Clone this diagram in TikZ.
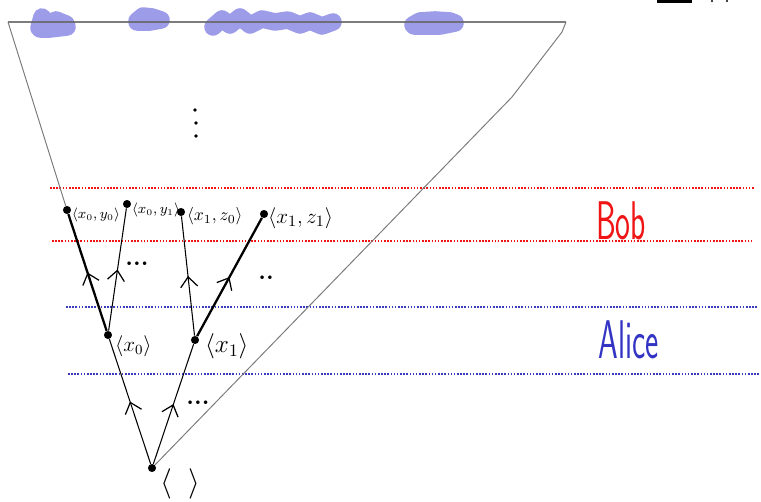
\documentclass[tikz,border=0pt]{standalone}
\usepackage{amsmath}
\usetikzlibrary{arrows.meta,decorations.markings}
\definecolor{bobred}{HTML}{F01414}
\definecolor{alicecol}{HTML}{3333C4}
\definecolor{sepblue}{HTML}{3A3AC0}
\definecolor{blobblue}{HTML}{9C9CE8}
\definecolor{trigray}{HTML}{7A7A7A}
\tikzset{
  dot/.style={circle,fill=black,inner sep=0pt,minimum size=4.6pt},
  speck/.style={circle,fill=black,inner sep=0pt,minimum size=2.2pt},
  lbl/.style={anchor=west,inner sep=1pt},
  who/.style={font=\sffamily\fontsize{31}{33}\selectfont},
  dots/.style={font=\bfseries\fontsize{14}{16}\selectfont,inner sep=0pt},
  bobline/.style={draw=bobred,line width=0.7pt,dash pattern=on 0.9pt off 0.9pt},
  aliceline/.style={draw=sepblue,line width=0.7pt,dash pattern=on 0.9pt off 0.9pt},
  tri/.style={draw=trigray,line width=0.55pt},
  top/.style={draw=black!60,draw opacity=0.85,line width=1.6pt},
  blob/.style={draw=blobblue,line width=10pt,line cap=round,line join=round},
  upmark/.style={decoration={markings,mark=at position 0.5 with {\arrow{Straight Barb[length=2mm,width=3.4mm,line width=0.7pt]}}},postaction={decorate}},
  edge/.style={draw=black,line width=0.6pt,upmark},
  edgethick/.style={draw=black,line width=1.3pt,upmark}
}
\begin{document}
\begin{tikzpicture}[x=0.02cm,y=-0.02cm]
\path[use as bounding box] (0,0) rectangle (761,502);
% scribbled-out heading
\draw[blob] (39,28)--(42,17)--(48,24)--(56,20)--(66,24)--(67,27)--(50,29)--(40,29);
\draw[blob] (137,21)--(143,16)--(152,17)--(161,20)--(150,22)--(137,22);
\draw[blob] (213,27)--(222,19)--(230,25)--(240,17)--(250,25)--(262,19)--(275,22)--(288,20)--(300,25)--(310,21)--(322,26)--(333,22);
\draw[blob] (413,25)--(420,21)--(435,20)--(450,21)--(455,23)--(440,26)--(414,26);
\coordinate (tl) at (8,22);
\coordinate (tr) at (566,22);
\coordinate (kink) at (562,32);
\coordinate (bend) at (512,97);
\draw[top] (tl)--(tr);
\fill[black] (657,0) rectangle (692,3);
\fill[black] (712,1) circle (0.6pt) (727,1) circle (0.6pt);
% Bob / Alice bands
\coordinate (b1l) at (50,188); \coordinate (b1r) at (755,188);
\coordinate (b2l) at (52,241); \coordinate (b2r) at (752,241);
\coordinate (a1l) at (66,307); \coordinate (a1r) at (757,307);
\coordinate (a2l) at (68,374); \coordinate (a2r) at (760,374);
\draw[bobline] (b1l)--(b1r);
\draw[bobline] (b2l)--(b2r);
\draw[aliceline] (a1l)--(a1r);
\draw[aliceline] (a2l)--(a2r);
\node[who,text=bobred] (bob) at (621,221) {\scalebox{0.58}[1]{Bob}};
\node[who,text=alicecol] (alice) at (629,340) {\scalebox{0.58}[1]{Alice}};
% the tree
\node[dot] (root) at (152,468) {};
\node[dot] (x0) at (108,335) {};
\node[dot] (x1) at (195,340) {};
\node[dot] (x0y0) at (67,210) {};
\node[dot] (x0y1) at (127,204) {};
\node[dot] (x1z0) at (181,212) {};
\node[dot] (x1z1) at (264,214) {};
\draw[tri] (tl)--(x0y0);
\draw[tri] (root)--(bend)--(kink)--(tr);
\draw[edge] (root)--(x0);
\draw[edge] (root)--(x1);
\draw[edgethick] (x0)--(x0y0);
\draw[edge] (x0)--(x0y1);
\draw[edge] (x1)--(x1z0);
\draw[edgethick] (x1)--(x1z1);
\node[lbl,font=\fontsize{16}{18}\selectfont] (lroot) at (158,484) {$\langle\;\;\rangle$};
\node[lbl,font=\fontsize{12}{14}\selectfont] (lx0) at (113,346) {$\langle x_0\rangle$};
\node[lbl,font=\fontsize{14}{16}\selectfont] (lx1) at (203,346) {$\langle x_1\rangle$};
\node[lbl,font=\fontsize{7.8}{9}\selectfont] (lx0y0) at (70,215) {$\langle x_0,y_0\rangle$};
\node[lbl,font=\fontsize{7.8}{9}\selectfont] (lx0y1) at (130,210) {$\langle x_0,y_1\rangle$};
\node[lbl,font=\fontsize{10}{12}\selectfont] (lx1z0) at (185,216) {$\langle x_1,z_0\rangle$};
\node[lbl,font=\fontsize{12.5}{14}\selectfont] (lx1z1) at (266,218) {$\langle x_1,z_1\rangle$};
\node[dots] (more0) at (137,264) {...};
\node[dots] (more1) at (266,278) {..};
\node[dots] (moreroot) at (198,403) {...};
% vertical ellipsis
\node[speck] (v1) at (195,110) {};
\node[speck] (v2) at (196,123) {};
\node[speck] (v3) at (196,136) {};
\end{tikzpicture}
\end{document}
